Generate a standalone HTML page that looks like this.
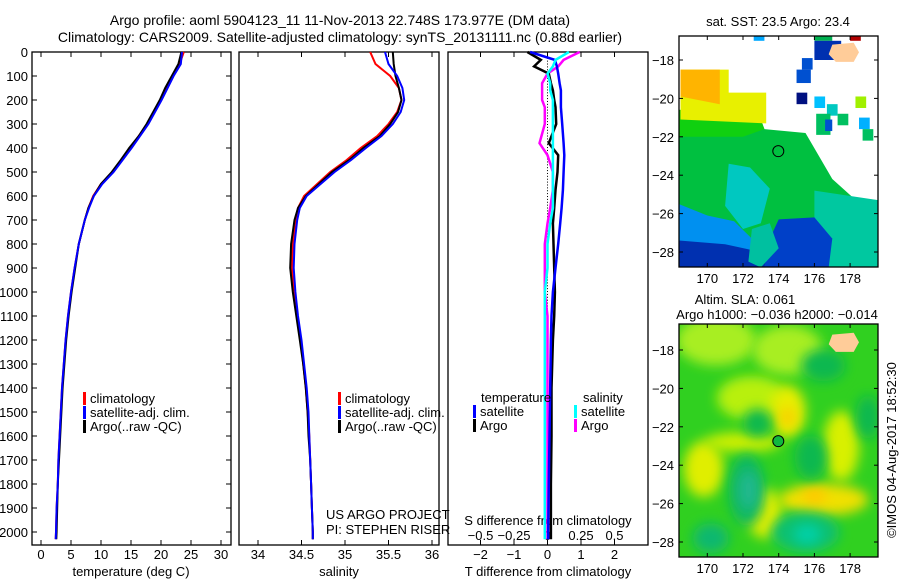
<!DOCTYPE html>
<html><head><meta charset="utf-8"><style>
html,body{margin:0;padding:0;background:#fff;}
svg{display:block;font-family:"Liberation Sans",sans-serif;}
text{font-size:13px;fill:#000;}
</style></head><body>
<svg id="chart" width="900" height="580" viewBox="0 0 900 580" xmlns="http://www.w3.org/2000/svg">
<defs>
<filter id="blur6" x="-50%" y="-50%" width="200%" height="200%"><feGaussianBlur stdDeviation="6"/></filter>
<clipPath id="clipTop"><rect x="679" y="36" width="199" height="231"/></clipPath>
<clipPath id="clipBot"><rect x="679" y="324" width="199" height="233"/></clipPath>
</defs>
<text x="340" y="25" text-anchor="middle" style="font-size:14px">Argo profile: aoml 5904123_11 11-Nov-2013 22.748S 173.977E (DM data)</text>
<text x="340" y="42" text-anchor="middle" style="font-size:14px">Climatology: CARS2009. Satellite-adjusted climatology: synTS_20131111.nc (0.88d earlier)</text>
<g id="g"></g>
</svg>
<script>
// ---- data ----
var depths = [0,50,100,150,200,250,300,350,400,450,500,550,600,650,700,800,900,1000,1100,1200,1300,1400,1500,1600,1700,1800,1900,2000,2030];
var tempClim = [23.8,23.1,21.9,20.9,19.9,18.8,17.7,16.3,14.9,13.4,11.9,10.0,8.7,7.9,7.3,6.3,5.6,5.0,4.5,4.1,3.8,3.5,3.3,3.1,2.9,2.8,2.6,2.5,2.45];
var tempSat  = [23.5,23.3,22.1,21.1,20.1,19.0,17.9,16.5,15.1,13.6,12.1,10.2,8.8,8.0,7.3,6.3,5.6,5.0,4.5,4.1,3.8,3.5,3.3,3.1,2.9,2.8,2.6,2.5,2.45];
var tempArgo = [23.4,22.9,21.8,20.7,19.8,18.7,17.6,16.3,14.7,13.3,11.8,10.0,8.8,7.9,7.3,6.3,5.7,5.1,4.6,4.2,3.9,3.6,3.4,3.2,3.0,2.8,2.7,2.6,2.55];
var salClim = [35.29,35.35,35.52,35.62,35.65,35.60,35.50,35.37,35.18,35.02,34.83,34.68,34.53,34.46,34.43,34.40,34.39,34.41,34.45,34.49,34.52,34.55,34.57,34.59,34.60,34.61,34.62,34.63,34.63];
var salSat  = [35.46,35.50,35.60,35.66,35.68,35.64,35.55,35.42,35.24,35.07,34.88,34.72,34.56,34.48,34.45,34.42,34.41,34.43,34.46,34.50,34.53,34.56,34.58,34.59,34.60,34.61,34.62,34.63,34.63];
var salArgo = [35.55,35.56,35.58,35.62,35.65,35.61,35.52,35.40,35.21,35.05,34.85,34.70,34.55,34.46,34.42,34.38,34.37,34.40,34.44,34.48,34.52,34.55,34.57,34.58,34.60,34.61,34.62,34.63,34.63];
var diffDepths = [0,33,60,90,130,160,200,230,300,380,430,500,575,650,714,800,900,1000,1100,1200,1400,1600,1800,2000,2030];
var dTsat  = [-0.52,0.22,0.28,0.32,0.36,0.40,0.40,0.40,0.44,0.48,0.50,0.48,0.46,0.42,0.38,0.32,0.24,0.16,0.12,0.10,0.08,0.06,0.04,0.02,0.02];
var dTargo = [-0.60,-0.20,-0.40,0.04,0.10,0.16,0.20,0.24,0.26,0.04,0.32,0.30,0.24,0.20,0.16,0.18,0.20,0.22,0.20,0.16,0.12,0.12,0.10,0.10,0.10];
var dSsat  = [0.16,0.06,0.04,0.00,0.02,0.02,0.04,0.04,0.04,0.04,0.04,0.04,0.04,0.04,0.02,0.00,0.00,-0.02,-0.02,-0.02,-0.02,-0.02,-0.02,-0.02,-0.02];
var dSargo = [0.24,0.12,0.08,0.00,-0.04,-0.04,-0.04,-0.02,-0.02,-0.06,0.00,0.04,0.04,0.02,0.00,-0.02,-0.02,-0.02,0.00,0.00,0.00,0.00,0.00,0.00,0.00];
var depthTicks = [0,100,200,300,400,500,600,700,800,900,1000,1100,1200,1300,1400,1500,1600,1700,1800,1900,2000];
var tempTicks = [0,5,10,15,20,25,30];
var salTicks = [34,34.5,35,35.5,36];
var salTickLabels = ["34","34.5","35","35.5","36"];
var dTTicks = [-2,-1,0,1,2];
var dSTicks = [-0.5,-0.25,0,0.25,0.5];
var dSTickLabels = ["\u22120.5","\u22120.25","0","0.25","0.5"];
var lonTicks = [170,172,174,176,178];
var latTicks = [-18,-20,-22,-24,-26,-28];

// ---- helpers ----
var NS="http://www.w3.org/2000/svg", G=document.getElementById('g');
function mk(tag,attrs,parent){var e=document.createElementNS(NS,tag);for(var k in attrs)e.setAttribute(k,attrs[k]);(parent||G).appendChild(e);return e;}
function yD(d){return 52+d*0.24;}
function xT(t){return 41+t*6;}
function xS(s){return 258+(s-34)*87;}
function xDT(v){return 547.5+v*33.5;}
function xDS(v){return 547.5+v*134;}
function txt(x,y,s,anchor,name){var t=mk('text',{x:x,y:y,'text-anchor':anchor||'start'});t.textContent=s;


return t;}
function line(xs,ys,col,name,w){var p='';for(var i=0;i<xs.length;i++)p+=(i?'L':'M')+xs[i].toFixed(1)+','+ys[i].toFixed(1);
var e=mk('path',{d:p,fill:'none',stroke:col,'stroke-width':w||2});


return e;}

// ---- panels ----
var panels=[[32,231,'temperature-panel'],[239,439,'salinity-panel'],[448,648,'difference-panel']];
panels.forEach(function(p){var r=mk('rect',{x:p[0],y:52,width:p[1]-p[0],height:493,fill:'none',stroke:'#000','stroke-width':1.3});

});
depthTicks.forEach(function(d){var y=yD(d);
mk('line',{x1:32,x2:37,y1:y,y2:y,stroke:'#000'});mk('line',{x1:226,x2:231,y1:y,y2:y,stroke:'#000'});
txt(28,y+5,String(d),'end','depth-tick-label');});
tempTicks.forEach(function(t){var x=xT(t);mk('line',{x1:x,x2:x,y1:52,y2:57,stroke:'#000'});mk('line',{x1:x,x2:x,y1:540,y2:545,stroke:'#000'});
txt(x,559,String(t),'middle','temperature-tick-label');});
txt(131,576,'temperature (deg C)','middle','x-axis-title-temperature');
salTicks.forEach(function(s,i){var x=xS(s);mk('line',{x1:x,x2:x,y1:52,y2:57,stroke:'#000'});mk('line',{x1:x,x2:x,y1:540,y2:545,stroke:'#000'});
txt(x,559,salTickLabels[i],'middle','salinity-tick-label');});
txt(339,576,'salinity','middle','x-axis-title-salinity');
dTTicks.forEach(function(v){var x=xDT(v);mk('line',{x1:x,x2:x,y1:52,y2:57,stroke:'#000'});mk('line',{x1:x,x2:x,y1:540,y2:545,stroke:'#000'});
txt(x,559,v<0?'\u2212'+(-v):String(v),'middle','t-difference-tick-label');});
dSTicks.forEach(function(v,i){txt(xDS(v),540,dSTickLabels[i],'middle','s-difference-tick-label');});
txt(548,525,'S difference from climatology','middle','s-difference-axis-title');
txt(548,576,'T difference from climatology','middle','x-axis-title-t-difference');
for(var d=0;d<2030;d+=12){mk('rect',{x:547,y:yD(d),width:1,height:1,fill:'#000'});}

// ---- series ----
var yy=depths.map(yD);
line(tempClim.map(xT),yy,'#ff0000','temperature-climatology-line');
line(tempArgo.map(xT),yy,'#000000','temperature-argo-line');
line(tempSat.map(xT),yy,'#0000ff','temperature-satellite-line');
line(salClim.map(xS),yy,'#ff0000','salinity-climatology-line');
line(salArgo.map(xS),yy,'#000000','salinity-argo-line');
line(salSat.map(xS),yy,'#0000ff','salinity-satellite-line');
var dy=diffDepths.map(yD);
line(dSargo.map(xDS),dy,'#ff00ff','s-diff-argo-line',2.5);
line(dTargo.map(xDT),dy,'#000000','t-diff-argo-line',2.5);
line(dTsat.map(xDT),dy,'#0000ff','t-diff-satellite-line',2.5);
line(dSsat.map(xDS),dy,'#00ffff','s-diff-satellite-line',2.5);

// ---- legends ----
function leg(x,y,col,label,name){var b=mk('rect',{x:x,y:y-11,width:3,height:13,fill:col});


txt(x+7,y,label,'start',name);}
[[83,'temperature-legend'],[338,'salinity-legend']].forEach(function(L){
leg(L[0],403,'#ff0000','climatology',L[1]+'-climatology');
leg(L[0],417,'#0000ff','satellite-adj. clim.',L[1]+'-satellite');
leg(L[0],431,'#000000','Argo(..raw -QC)',L[1]+'-argo');});
txt(481,402,'temperature','start','diff-legend-temperature-header');
txt(583,402,'salinity','start','diff-legend-salinity-header');
leg(473,416,'#0000ff','satellite','diff-legend-t-satellite');
leg(473,430,'#000000','Argo','diff-legend-t-argo');
leg(574,416,'#00ffff','satellite','diff-legend-s-satellite');
leg(574,430,'#ff00ff','Argo','diff-legend-s-argo');
txt(326,519,'US ARGO PROJECT','start','project-credit');
txt(326,534,'PI: STEPHEN RISER','start','pi-credit');

// ---- maps ----
function mx(lon){return 707.3+(lon-170)*17.85;}
function myT(lat){return 60+(-18-lat)*19.2;}
function myB(lat){return 350+(-18-lat)*19.2;}
function poly(pts,fy,col,parent,name,filt){var s=pts.map(function(p){return mx(p[0]).toFixed(1)+','+fy(p[1]).toFixed(1);}).join(' ');
var a={points:s,fill:col};if(filt)a.filter=filt;var e=mk('polygon',a,parent);

return e;}
function ell(lon,lat,rx,ry,col,fy,parent,name){var e=mk('ellipse',{cx:mx(lon),cy:fy(lat),rx:rx,ry:ry,fill:col,filter:'url(#blur6)'},parent);

}
function sq(lon,lat,w,h,col,fy,parent){var e=mk('rect',{x:mx(lon),y:fy(lat),width:w*17.85,height:h*19.2,fill:col},parent);

}

var gt=mk('g',{'clip-path':'url(#clipTop)'});


mk('rect',{x:679,y:36,width:199,height:231,fill:'#fff'},gt);
poly([[168.4,-20.6],[172.8,-20.6],[173.2,-21.6],[175.5,-21.8],[176,-22.6],[177,-24.2],[178.2,-25.2],[179.6,-25.3],[179.6,-29],[168.4,-29]],myT,'#00c040',gt,'sst-green-region');
poly([[168.4,-20.6],[172.8,-20.6],[173.2,-21.6],[172,-22],[168.4,-22]],myT,'#10d010',gt,'sst-bright-green');
poly([[168.5,-18.5],[171.2,-18.5],[171.2,-19.7],[173.3,-19.7],[173.3,-21.3],[168.5,-21.1]],myT,'#e8f000',gt,'sst-yellow-region');
poly([[168.5,-18.5],[170.7,-18.5],[170.7,-20.3],[168.5,-19.9]],myT,'#ffb400',gt,'sst-orange-region');
poly([[171.2,-23.4],[172.4,-23.6],[173.5,-24.7],[173,-26.5],[172,-26.8],[171,-25.6]],myT,'#00c8c0',gt,'sst-cyan-patch');
poly([[176,-24.8],[179.6,-25.3],[179.6,-28.8],[176,-28.8]],myT,'#00c8a0',gt,'sst-teal-region');
poly([[168.4,-25.5],[170,-26.1],[171.5,-26.4],[172.5,-27.3],[173.5,-27.8],[173.5,-28.9],[168.4,-28.9]],myT,'#0090f0',gt,'sst-lightblue-region');
poly([[168.4,-27.4],[171,-27.6],[173,-28],[173.5,-28.9],[168.4,-28.9]],myT,'#0030b0',gt,'sst-darkblue-region');
poly([[174,-26.3],[176,-26.2],[177,-27.3],[176.8,-28.8],[173.2,-28.8],[173.5,-27.3]],myT,'#0040c8',gt,'sst-blue-blob');
poly([[172.5,-26.8],[173.5,-26.5],[174,-27.8],[173,-28.8],[172.3,-28.5]],myT,'#00c0a0',gt,'sst-teal-strip');
sq(172.6,-16.7,0.6,0.3,'#00a8ff',myT,gt);sq(176,-16.7,1,0.3,'#00b050',myT,gt);sq(176,-17,1.5,1,'#0030b0',myT,gt);
sq(178,-16.7,0.6,0.3,'#b00000',myT,gt);sq(175.3,-17.9,0.6,0.6,'#0050d0',myT,gt);sq(175,-18.5,0.8,0.7,'#0050d0',myT,gt);
sq(175,-19.7,0.6,0.6,'#001080',myT,gt);sq(176,-19.9,0.6,0.6,'#00c0ff',myT,gt);sq(176.7,-20.3,0.6,0.6,'#00c8c0',myT,gt);
sq(178.3,-19.9,0.6,0.6,'#a0f000',myT,gt);sq(176.1,-20.8,0.8,1.1,'#00c060',myT,gt);sq(177.3,-20.8,0.6,0.6,'#00c060',myT,gt);
sq(178.5,-21,0.6,0.6,'#00b0ff',myT,gt);sq(178.7,-21.6,0.6,0.6,'#00c060',myT,gt);sq(176.6,-21.1,0.4,0.6,'#0050d0',myT,gt);
poly([[177,-17.2],[178.2,-17.1],[178.5,-17.6],[178.2,-18.1],[177.2,-18.1],[176.8,-17.7]],myT,'#ffcc99',gt,'fiji-island-top');
mk('rect',{x:679,y:36,width:199,height:231,fill:'none',stroke:'#000','stroke-width':1.3});
var c1=mk('circle',{cx:mx(173.977),cy:myT(-22.748),r:5.5,fill:'none',stroke:'#000','stroke-width':1});



var gb=mk('g',{'clip-path':'url(#clipBot)'});


mk('rect',{x:679,y:324,width:199,height:233,fill:'#30d020'},gb);
ell(170.5,-17.5,40,25,'#a8ee20',myB,gb,'sla-yellowgreen');
ell(174.5,-18,35,25,'#a8ee20',myB,gb,'sla-yellowgreen');
ell(172.5,-20.5,35,22,'#b8f010',myB,gb,'sla-yellowgreen');
ell(174.5,-21.2,18,26,'#e8ee00',myB,gb,'sla-yellow-blob');
ell(174.5,-21.5,8,10,'#f8d000',myB,gb,'sla-orange-blob');
ell(177.5,-23,18,35,'#d8f000',myB,gb,'sla-yellow-blob');
ell(169.8,-24.2,20,28,'#e0ee00',myB,gb,'sla-yellow-blob');
ell(172,-22.8,38,10,'#d0f000',myB,gb,'sla-yellow-blob');
ell(176.5,-25.8,45,16,'#f0e000',myB,gb,'sla-yellow-blob');
ell(176,-25.6,12,8,'#ffc800',myB,gb,'sla-orange-blob');
ell(173.2,-26.5,18,25,'#e0ee00',myB,gb,'sla-yellow-blob');
ell(172.2,-25.3,18,36,'#10b860',myB,gb,'sla-darkgreen-blob');
ell(175.5,-27.5,34,20,'#10c070',myB,gb,'sla-darkgreen-blob');
ell(175.6,-27.6,14,10,'#00d0a8',myB,gb,'sla-teal-blob');
ell(172.3,-25.3,10,20,'#20b890',myB,gb,'sla-teal-blob');
ell(175.8,-23.6,16,22,'#10b850',myB,gb,'sla-darkgreen-blob');
ell(172.8,-21.8,14,14,'#10b850',myB,gb,'sla-darkgreen-blob');
ell(170.2,-27.8,18,15,'#10b870',myB,gb,'sla-darkgreen-blob');
ell(176.5,-18.8,22,16,'#10b850',myB,gb,'sla-darkgreen-blob');
ell(179,-21.5,12,22,'#10b850',myB,gb,'sla-darkgreen-blob');
poly([[177,-17.2],[178.2,-17.1],[178.5,-17.6],[178.2,-18.1],[177.2,-18.1],[176.8,-17.7]],myB,'#ffcc99',gb,'fiji-island-bottom');
mk('rect',{x:679,y:324,width:199,height:233,fill:'none',stroke:'#000','stroke-width':1.3});
var c2=mk('circle',{cx:mx(173.977),cy:myB(-22.748),r:5.5,fill:'#10b840',stroke:'#000','stroke-width':1});



[[myT,36,267,'sst'],[myB,324,557,'sla']].forEach(function(M){
lonTicks.forEach(function(l){var x=mx(l);mk('line',{x1:x,x2:x,y1:M[1],y2:M[1]+4,stroke:'#000'});mk('line',{x1:x,x2:x,y1:M[2]-4,y2:M[2],stroke:'#000'});
txt(x,M[2]+16,String(l),'middle',M[3]+'-lon-tick-label');});
latTicks.forEach(function(l){var y=M[0](l);mk('line',{x1:679,x2:683,y1:y,y2:y,stroke:'#000'});mk('line',{x1:874,x2:878,y1:y,y2:y,stroke:'#000'});
txt(674,y+5,'\u2212'+(-l),'end',M[3]+'-lat-tick-label');});});
txt(778,26,'sat. SST: 23.5 Argo: 23.4','middle','sst-map-title');
txt(745,304,'Altim. SLA: 0.061','middle','sla-map-title');
txt(777,319,'Argo h1000: \u22120.036 h2000: \u22120.014','middle','sla-map-subtitle');
var cr=txt(0,0,'\u00a9IMOS 04-Aug-2017 18:52:30','middle','copyright-timestamp');
cr.setAttribute('transform','translate(896,450) rotate(-90)');
</script>
</body></html>
